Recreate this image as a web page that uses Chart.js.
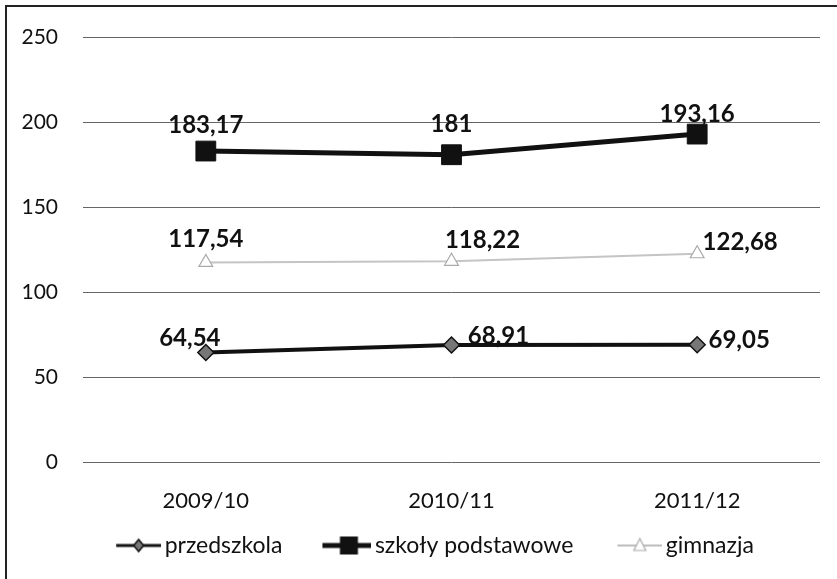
<!DOCTYPE html>
<html>
<head>
<meta charset="utf-8">
<script src="https://cdn.jsdelivr.net/npm/chart.js@4.4.1/dist/chart.umd.min.js"></script>
<style>
  html, body { margin: 0; padding: 0; background: #fff; }
  #wrap { position: relative; width: 837px; height: 579px; overflow: hidden; }
  #frame { position: absolute; left: 5px; top: 5px; width: 840px; height: 580px;
           border-left: 2px solid #222; border-top: 2px solid #222; }
  canvas { position: absolute; left: 0; top: 0; }
</style>
</head>
<body>
<div id="wrap">
  <div id="frame"></div>
  <canvas id="chart" width="837" height="579"></canvas>
</div>
<script>
const categories = ['2009/10', '2010/11', '2011/12'];
const seriesNames = ['przedszkola', 'szkoły podstawowe', 'gimnazja'];
const przedszkola = [64.54, 68.91, 69.05];
const szkolyPodstawowe = [183.17, 181, 193.16];
const gimnazja = [117.54, 118.22, 122.68];
const yTicks = [0, 50, 100, 150, 200, 250];

// where each value label sits relative to its point (dx, dy)
const labelOffsets = [
  [[-16, -14], [47, -9], [42, -5]],
  [[0, -26], [0, -30], [0, -20]],
  [[0, -23], [31, -21], [43, -11]]
];

const FONT = 'Lato, "Liberation Sans", sans-serif';

function symbol(kind) {
  const c = document.createElement('canvas');
  c.width = 87; c.height = 24;
  const g = c.getContext('2d');
  const x0 = 42, x1 = 87, cx = 64.5, cy = 12;
  g.lineCap = 'butt';
  if (kind === 0) {
    g.strokeStyle = '#111'; g.lineWidth = 3;
    g.beginPath(); g.moveTo(x0, cy); g.lineTo(x1, cy); g.stroke();
    g.fillStyle = '#777'; g.lineWidth = 1.5;
    g.beginPath(); g.moveTo(cx, cy - 6); g.lineTo(cx + 5, cy); g.lineTo(cx, cy + 6); g.lineTo(cx - 5, cy); g.closePath();
    g.fill(); g.stroke();
  } else if (kind === 1) {
    g.strokeStyle = '#111'; g.lineWidth = 5;
    g.beginPath(); g.moveTo(x0 - 4, cy); g.lineTo(x1, cy); g.stroke();
    g.fillStyle = '#111'; g.fillRect(cx - 9, cy - 9, 18, 18);
  } else {
    g.strokeStyle = '#bdbdbd'; g.lineWidth = 2;
    g.beginPath(); g.moveTo(x0, cy); g.lineTo(x1, cy); g.stroke();
    g.fillStyle = '#fff'; g.strokeStyle = '#aaa'; g.lineWidth = 1.2;
    g.beginPath(); g.moveTo(cx, cy - 7); g.lineTo(cx + 6, cy + 5); g.lineTo(cx - 6, cy + 5); g.closePath();
    g.fill(); g.stroke();
  }
  return c;
}
const symbols = [symbol(0), symbol(1), symbol(2)];

const valueLabels = {
  id: 'valueLabels',
  afterDatasetsDraw(chart) {
    const ctx = chart.ctx;
    ctx.save();
    ctx.font = 'bold 24px ' + FONT;
    ctx.fillStyle = '#111';
    ctx.textAlign = 'center';
    ctx.textBaseline = 'middle';
    chart.data.datasets.forEach((ds, i) => {
      chart.getDatasetMeta(i).data.forEach((pt, j) => {
        const [dx, dy] = labelOffsets[i][j];
        ctx.fillText(String(ds.data[j]).replace('.', ','), pt.x + dx, pt.y + dy);
      });
    });
    ctx.restore();
  }
};

new Chart(document.getElementById('chart'), {
  type: 'line',
  data: {
    labels: categories,
    datasets: [
      {
        label: seriesNames[0], data: przedszkola,
        borderColor: '#111', borderWidth: 4,
        pointStyle: 'rectRot', pointRadius: 8, pointBackgroundColor: '#777',
        pointBorderColor: '#111', pointBorderWidth: 1.5, order: 1
      },
      {
        label: seriesNames[1], data: szkolyPodstawowe,
        borderColor: '#111', borderWidth: 5,
        pointStyle: 'rect', pointRadius: 14, pointBackgroundColor: '#111',
        pointBorderColor: '#111', pointBorderWidth: 1, order: 0
      },
      {
        label: seriesNames[2], data: gimnazja,
        borderColor: '#c4c4c4', borderWidth: 2,
        pointStyle: 'triangle', pointRadius: 8, pointBackgroundColor: '#fff',
        pointBorderColor: '#aaa', pointBorderWidth: 1.2, order: 2
      }
    ]
  },
  options: {
    responsive: false,
    animation: false,
    layout: { padding: { top: 34, right: 17, bottom: 12, left: 16 } },
    plugins: {
      tooltip: { enabled: false },
      legend: {
        position: 'bottom',
        align: 'center',
        labels: {
          usePointStyle: true,
          pointStyleWidth: 71,
          boxHeight: 23,
          padding: 10,
          color: '#111',
          font: { family: FONT, size: 23 },
          generateLabels: chart => chart.data.datasets.map((ds, i) => ({
            text: ds.label, pointStyle: symbols[i], datasetIndex: i,
            fillStyle: 'rgba(0,0,0,0)', strokeStyle: 'rgba(0,0,0,0)',
            lineWidth: 0, hidden: false, fontColor: '#111'
          }))
        }
      }
    },
    scales: {
      x: {
        offset: true,
        grid: { display: false, offset: true },
        border: { display: false },
        ticks: { color: '#111', padding: 18, font: { family: FONT, size: 22 } },
        afterFit: s => { s.height = 62; }
      },
      y: {
        min: 0, max: 250,
        afterBuildTicks: s => { s.ticks = yTicks.map(v => ({ value: v })); },
        grid: { color: '#666', lineWidth: 1, drawTicks: false },
        border: { display: false },
        ticks: { color: '#111', padding: 25, font: { family: FONT, size: 21 } },
        afterFit: s => { s.width = 67; }
      }
    }
  },
  plugins: [valueLabels]
});
</script>
</body>
</html>
